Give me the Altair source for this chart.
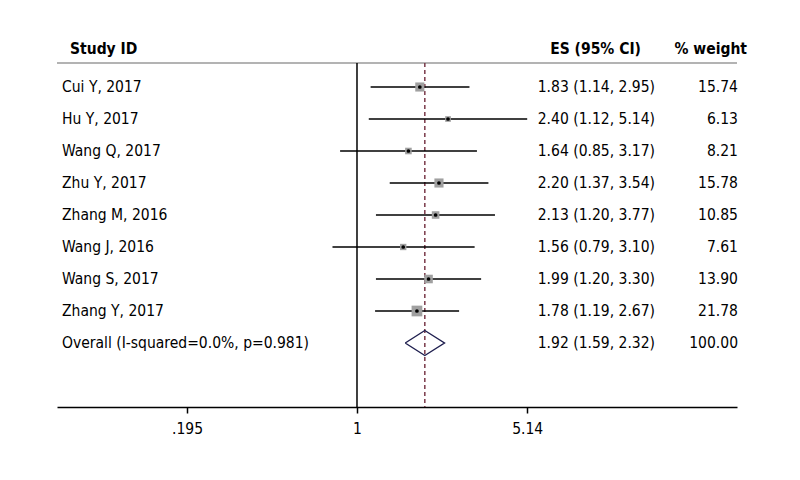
import altair as alt
import pandas as pd

studies = ["Cui Y, 2017", "Hu Y, 2017", "Wang Q, 2017", "Zhu Y, 2017",
           "Zhang M, 2016", "Wang J, 2016", "Wang S, 2017", "Zhang Y, 2017"]
es = [1.83, 2.40, 1.64, 2.20, 2.13, 1.56, 1.99, 1.78]
lo = [1.14, 1.12, 0.85, 1.37, 1.20, 0.79, 1.20, 1.19]
hi = [2.95, 5.14, 3.17, 3.54, 3.77, 3.10, 3.30, 2.67]
weight = [15.74, 6.13, 8.21, 15.78, 10.85, 7.61, 13.90, 21.78]

overall_label = "Overall  (I-squared=0.0%, p=0.981)"
overall_es, overall_lo, overall_hi, overall_w = 1.92, 1.59, 2.32, 100.00

tick_values = [0.195, 1, 5.14]
tick_labels = [".195", "1", "5.14"]

FONT = "'DejaVu Sans Condensed', 'Liberation Sans', sans-serif"
FS = 15.5

rows = []
for i, s in enumerate(studies):
    rows.append({"row": i, "label": s, "es": es[i], "lo": lo[i], "hi": hi[i], "w": weight[i],
                 "est": f"{es[i]:.2f} ({lo[i]:.2f}, {hi[i]:.2f})", "wt": f"{weight[i]:.2f}"})
n = len(studies)
rows.append({"row": n, "label": overall_label, "es": overall_es, "lo": overall_lo, "hi": overall_hi,
             "w": overall_w, "est": f"{overall_es:.2f} ({overall_lo:.2f}, {overall_hi:.2f})",
             "wt": f"{overall_w:.2f}"})
df = pd.DataFrame(rows)
study_df = df[df.row < n]

top_row = -0.75
bottom_row = n + 2

xscale = alt.Scale(type="log", domain=[0.05583, 38.67], nice=False)
yscale = alt.Scale(domain=[-2.46875, bottom_row], reverse=True, nice=False, zero=False)

label_expr = " : ".join(
    [f"abs(datum.value - {v}) < 1e-6 ? '{t}'" for v, t in zip(tick_values, tick_labels)]
) + " : ''"

xaxis = alt.Axis(values=tick_values, labelExpr=label_expr, grid=False, title=None,
                 domainColor="black", domainWidth=1.5, tickColor="black",
                 tickWidth=1.5, tickSize=6, labelPadding=8, labelFontSize=FS,
                 labelFont=FONT, labelColor="black")

X = lambda f: alt.X(f, type="quantitative", scale=xscale, axis=xaxis, title=None)
Y = lambda f: alt.Y(f, type="quantitative", scale=yscale, axis=None)

header_line = alt.Chart(pd.DataFrame({"row": [top_row]})).mark_rule(
    color="#9a9a9a", strokeWidth=1.5).encode(
    x=alt.value(0), x2=alt.value(680), y=Y("row"))

vline_df = pd.DataFrame({"x": [1.0, overall_es], "y1": [top_row, top_row],
                         "y2": [bottom_row, bottom_row], "kind": ["null", "overall"]})
null_line = alt.Chart(vline_df[vline_df.kind == "null"]).mark_rule(
    color="black", strokeWidth=1.5).encode(x=X("x"), y=Y("y1"), y2="y2")
overall_line = alt.Chart(vline_df[vline_df.kind == "overall"]).mark_rule(
    color="#7a3a4a", strokeWidth=1.5, strokeDash=[4, 3]).encode(x=X("x"), y=Y("y1"), y2="y2")

ci = alt.Chart(study_df).mark_rule(color="black", strokeWidth=1.3).encode(
    x=X("lo"), x2="hi", y=Y("row"))
boxes = alt.Chart(study_df).mark_square(color="#a0a0a0", opacity=1, filled=True).encode(
    x=X("es"), y=Y("row"),
    size=alt.Size("w:Q", scale=alt.Scale(domain=[0, 21.78], range=[0, 115]), legend=None))
dots = alt.Chart(study_df).mark_point(filled=True, color="black", size=14, opacity=1,
                                      shape="circle").encode(
    x=X("es"), y=Y("row"))

# diamond for overall estimate
h = 0.39
dia = pd.DataFrame({
    "x": [overall_lo, overall_es, overall_hi, overall_es, overall_lo],
    "row": [n, n - h, n, n + h, n],
    "ord": [0, 1, 2, 3, 4],
})
diamond = alt.Chart(dia).mark_line(color="#1f1f4f", strokeWidth=1.4).encode(
    x=X("x"), y=Y("row"), order="ord:O")

txt = dict(font=FONT, fontSize=FS, color="black", baseline="middle")
labels = alt.Chart(df).mark_text(align="left", **txt).encode(
    x=alt.value(5), y=Y("row"), text="label:N")
ests = alt.Chart(df).mark_text(align="right", **txt).encode(
    x=alt.value(598), y=Y("row"), text="est:N")
wts = alt.Chart(df).mark_text(align="right", **txt).encode(
    x=alt.value(681), y=Y("row"), text="wt:N")

hdr_df = pd.DataFrame({"row": [-1.2, -1.2, -1.2],
                       "t": ["Study ID", "ES (95% CI)", "% weight"]})
hdr_left = alt.Chart(hdr_df.iloc[[0]]).mark_text(align="left", fontWeight="bold", **txt).encode(
    x=alt.value(13), y=Y("row"), text="t:N")
hdr_mid = alt.Chart(hdr_df.iloc[[1]]).mark_text(align="right", fontWeight="bold", **txt).encode(
    x=alt.value(584), y=Y("row"), text="t:N")
hdr_right = alt.Chart(hdr_df.iloc[[2]]).mark_text(align="right", fontWeight="bold", **txt).encode(
    x=alt.value(690), y=Y("row"), text="t:N")

chart = alt.layer(
    header_line, null_line, overall_line, ci, boxes, dots, diamond,
    labels, ests, wts, hdr_left, hdr_mid, hdr_right
).properties(
    width=680, height=399,
    background="white",
    autosize=alt.AutoSizeParams(type="none"),
    padding={"left": 49, "top": 0, "right": 55, "bottom": 65},
).configure_view(stroke="transparent", strokeWidth=0)

chart.save("out.html", embed_options={"renderer": "svg", "actions": False})
